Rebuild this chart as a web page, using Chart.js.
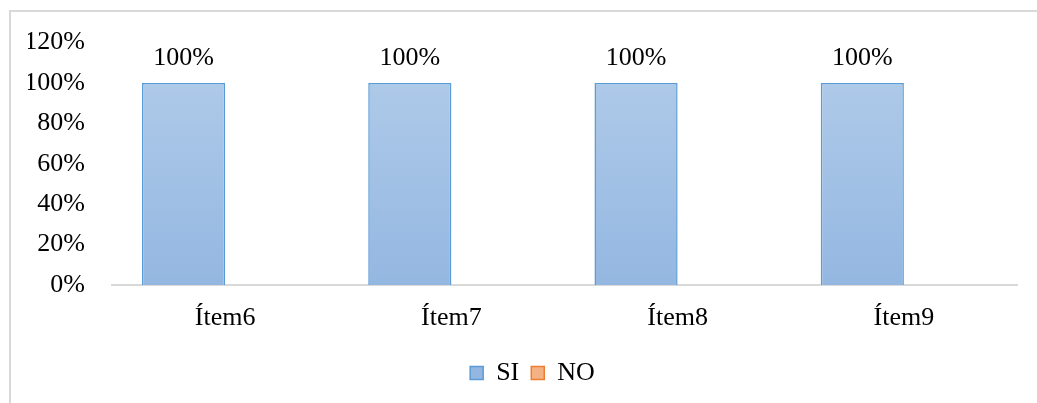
<!DOCTYPE html>
<html lang="es">
<head>
    <meta charset="UTF-8">
    <title>SI / NO por ítem</title>
    <style>
        html, body { margin: 0; padding: 0; background: #fff; }
        #wrap { position: relative; width: 1037px; height: 403px; overflow: hidden; }
        #frame { position: absolute; left: 9px; top: 10px; right: -5px; bottom: -5px;
                 border-top: 2px solid #d9d9d9; border-left: 2px solid #d9d9d9; }
        canvas { position: absolute; left: 0; top: 0; }
    </style>
</head>
<body>
    <div id="wrap">
        <div id="frame"></div>
        <canvas id="barChart" width="1037" height="403"></canvas>
    </div>
    <script src="https://cdn.jsdelivr.net/npm/chart.js"></script>
    <script>
        // data
        const items = ['Ítem6', 'Ítem7', 'Ítem8', 'Ítem9'];
        const siValues = [100, 100, 100, 100];
        const noValues = [0, 0, 0, 0];
        const yTicks = [0, 20, 40, 60, 80, 100, 120];

        const fontFamily = '"Liberation Serif", "Times New Roman", serif';

        // vertical gradient like the excel fill
        function barGradient(ctx, top, bottom) {
            const chart = ctx.chart;
            const area = chart.chartArea;
            if (!area) return top;
            const g = chart.ctx.createLinearGradient(0, area.top, 0, area.bottom);
            g.addColorStop(0, top);
            g.addColorStop(1, bottom);
            return g;
        }

        // "100%" labels above the SI bars
        const valueLabels = {
            id: 'valueLabels',
            afterDatasetsDraw(chart) {
                const ctx = chart.ctx;
                const meta = chart.getDatasetMeta(0);
                ctx.save();
                ctx.font = '26px ' + fontFamily;
                ctx.fillStyle = '#000';
                ctx.textAlign = 'center';
                ctx.textBaseline = 'middle';
                meta.data.forEach((bar, i) => {
                    ctx.fillText(siValues[i] + '%', bar.x, bar.y - 25);
                });
                ctx.restore();
            }
        };

        // excel centres the legend a bit right of the canvas centre
        const legendShift = {
            id: 'legendShift',
            afterLayout(chart) {
                if (chart.legend) {
                    chart.legend.left += 10;
                    chart.legend.right += 10;
                }
            }
        };

        const chartContext = document.getElementById('barChart').getContext('2d');
        const barChart = new Chart(chartContext, {
            type: 'bar',
            data: {
                labels: items,
                datasets: [{
                    label: 'SI',
                    data: siValues,
                    backgroundColor: (c) => barGradient(c, '#b3cdea', '#94b7e1'),
                    borderColor: '#5b9bd5',
                    borderWidth: 1.5,
                    categoryPercentage: 0.735,
                    barPercentage: 1.0
                }, {
                    label: 'NO',
                    data: noValues,
                    backgroundColor: (c) => barGradient(c, '#f8cbad', '#f4b183'),
                    borderColor: '#ed7d31',
                    borderWidth: 1.5,
                    categoryPercentage: 0.735,
                    barPercentage: 1.0
                }]
            },
            options: {
                responsive: false,
                animation: false,
                layout: { padding: { top: 24, left: 28, right: 20, bottom: 7 } },
                plugins: {
                    tooltip: { enabled: false },
                    legend: {
                        position: 'bottom',
                        labels: {
                            color: '#000',
                            font: { family: fontFamily, size: 26 },
                            boxWidth: 13,
                            boxHeight: 13,
                            padding: 12
                        }
                    }
                },
                scales: {
                    x: {
                        grid: { display: false },
                        border: { display: true, color: '#d9d9d9', width: 2 },
                        afterFit: (axis) => { axis.height = 63; },
                        ticks: {
                            color: '#000',
                            font: { family: fontFamily, size: 26 },
                            padding: 10
                        }
                    },
                    y: {
                        min: 0,
                        max: 120,
                        afterBuildTicks: (axis) => { axis.ticks = yTicks.map(v => ({ value: v })); },
                        afterFit: (axis) => { axis.width = 84; },
                        grid: { display: false, drawTicks: false },
                        border: { display: false },
                        ticks: {
                            color: '#000',
                            font: { family: fontFamily, size: 26 },
                            padding: 27,
                            callback: (v) => v + '%'
                        }
                    }
                }
            },
            plugins: [valueLabels, legendShift]
        });
    </script>
</body>
</html>
